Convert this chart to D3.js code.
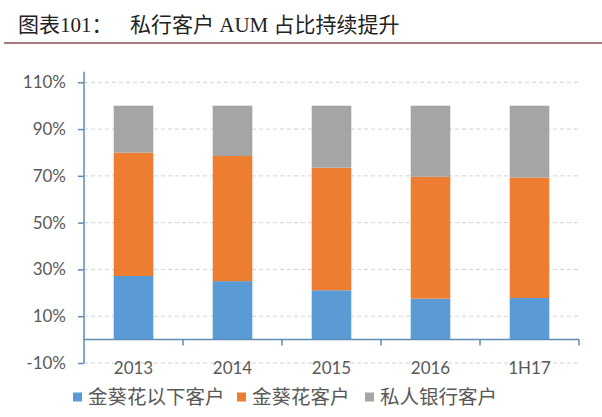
<!DOCTYPE html>
<html><head><meta charset="utf-8">
<script src="https://cdn.jsdelivr.net/npm/d3@7"></script>
<style>
html,body{margin:0;padding:0;background:#fff;}
svg{display:block;}
</style></head>
<body>
<svg id="c" width="602" height="417"></svg>
<script>
const categories = ["2013", "2014", "2015", "2016", "1H17"];
const seriesNames = ["金葵花以下客户", "金葵花客户", "私人银行客户"];
const belowJKH = [27.2, 25.0, 21.1, 17.5, 17.8];
const jkh = [52.7, 53.5, 52.4, 52.1, 51.5];
const privateBank = [20.1, 21.5, 26.5, 30.4, 30.7];
const yTicks = [-10, 10, 30, 50, 70, 90, 110];
const colors = ["#5b9bd5", "#ed7d31", "#a5a5a5"];

const svg = d3.select("#c");
const labelFont = "Lato, 'Open Sans', sans-serif";
const cjkFont = "'Noto Sans CJK SC', sans-serif";

// Title
const title = svg.append("g").attr("font-family", "'Liberation Serif', 'Noto Sans CJK SC', serif")
  .attr("font-size", 21).attr("fill", "#222");
title.append("text").attr("x", 18).attr("y", 32).text("图表101：");
title.append("text").attr("x", 130).attr("y", 32).text("私行客户 AUM 占比持续提升");
svg.append("line").attr("x1", 4).attr("x2", 602).attr("y1", 43).attr("y2", 43)
  .attr("stroke", "#a87a7a").attr("stroke-width", 2);

const x = d3.scaleBand().domain(categories).range([84, 579]).paddingInner(0.6).paddingOuter(0.3);
const y = d3.scaleLinear().domain([-10, 110]).range([363, 82.3]);

// gridlines
svg.append("g").selectAll("line").data(yTicks).join("line")
  .attr("x1", 84).attr("x2", 580)
  .attr("y1", d => y(d)).attr("y2", d => y(d))
  .attr("stroke", "#d3d3d3").attr("stroke-width", 1).attr("stroke-dasharray", "4,3");

// stacked bars
const rows = categories.map((c, i) => ({cat: c, a: belowJKH[i], b: jkh[i], c: privateBank[i]}));
const stack = d3.stack().keys(["a", "b", "c"])(rows);
svg.append("g").selectAll("g").data(stack).join("g")
  .attr("fill", (d, i) => colors[i])
  .selectAll("rect").data(d => d).join("rect")
  .attr("x", d => x(d.data.cat))
  .attr("width", x.bandwidth())
  .attr("y", d => y(d[1]))
  .attr("height", d => y(d[0]) - y(d[1]));

const axisColor = "#5e8db5";
// y axis
const yAxis = svg.append("g").attr("transform", "translate(84,0)")
  .call(d3.axisLeft(y).tickValues(yTicks).tickFormat(d => d + "%").tickSize(6).tickPadding(12));
yAxis.select(".domain").attr("d", `M0,${y(114.5)}V${y(-10)}`).attr("stroke", axisColor).attr("stroke-width", 1.5);
yAxis.selectAll(".tick line").attr("stroke", axisColor).attr("stroke-width", 1.5);
yAxis.selectAll(".tick text").attr("font-family", labelFont).attr("font-size", 17).attr("fill", "#595959");

// x axis at 0
const xAxis = svg.append("g").attr("transform", `translate(0,${y(0)})`)
  .call(d3.axisBottom(x).tickSize(0).tickPadding(0).tickFormat(""));
xAxis.select(".domain").attr("d", "M84,0H579").attr("stroke", axisColor).attr("stroke-width", 1.5);
const step = x.step();
xAxis.append("g").selectAll("line").data(categories).join("line")
  .attr("x1", d => x(d) - x.paddingInner() * step / 2 + step)
  .attr("x2", d => x(d) - x.paddingInner() * step / 2 + step)
  .attr("y1", 0).attr("y2", 6).attr("stroke", axisColor).attr("stroke-width", 1.5);
svg.append("g").selectAll("text").data(categories).join("text")
  .attr("x", d => x(d) + x.bandwidth() / 2).attr("y", 374)
  .attr("text-anchor", "middle").attr("font-family", labelFont).attr("font-size", 17)
  .attr("fill", "#595959").text(d => d);

// legend
const legX = [73, 237, 365];
const leg = svg.append("g").selectAll("g").data(seriesNames).join("g")
  .attr("transform", (d, i) => `translate(${legX[i]},397)`);
leg.append("rect").attr("x", 0).attr("y", -4.5).attr("width", 9).attr("height", 9)
  .attr("fill", (d, i) => colors[i]);
leg.append("text").attr("x", 15).attr("y", 0).attr("dy", "0.36em")
  .attr("font-family", cjkFont).attr("font-size", 19.5).attr("fill", "#595959").text(d => d);
</script>
</body></html>
